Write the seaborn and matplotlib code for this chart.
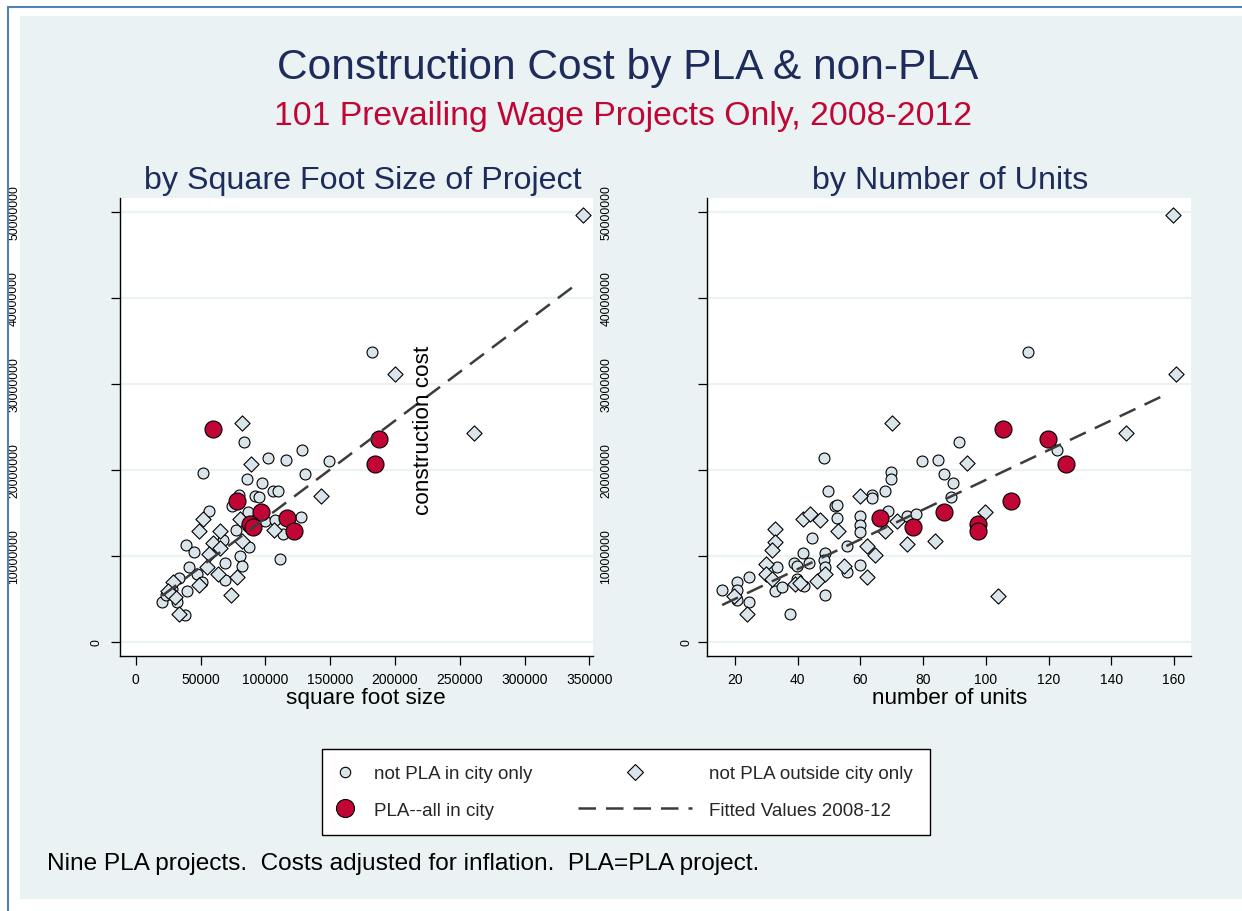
import numpy as np
import pandas as pd
import seaborn as sns
import matplotlib.pyplot as plt
from matplotlib.lines import Line2D
from matplotlib.patches import Rectangle

# construction cost in $ millions, square feet in thousands
pla_cost = [24.77, 23.66, 20.64, 16.40, 15.06, 14.36, 13.72, 13.37, 12.87]
pla_sqft = [59.9, 187.7, 184.6, 77.8, 96.3, 116.4, 88.2, 90.7, 122.4]
pla_units = [105.6, 119.8, 125.6, 107.9, 86.8, 66.3, 97.6, 76.7, 97.6]

# not PLA, in city (left panel)
city_sqft = [182.6, 83.2, 101.7, 116.1, 128.3, 148.8, 52.3, 85.5, 97.7, 130.6,
             105.6, 109.8, 79.7, 92.1, 95.1, 56.6, 127.5, 111.1, 39.0, 45.0,
             67.6, 87.7, 80.2, 69.1, 82.3, 41.4, 33.4, 47.5, 69.1, 39.4,
             20.5, 31.6, 38.0, 77.2, 86.9, 99.8, 113.9, 107.7, 74.3, 51.4,
             28.0, 23.4]
city_cost_l = [33.69, 23.31, 21.40, 21.20, 22.33, 21.05, 19.65, 18.95, 18.52, 19.50,
               17.52, 17.50, 17.13, 16.92, 16.86, 15.20, 14.50, 9.65, 11.31, 10.43,
               11.86, 11.08, 9.97, 9.19, 8.80, 8.76, 7.48, 7.87, 7.21, 5.97,
               4.65, 4.69, 3.14, 13.02, 15.08, 14.10, 12.56, 14.19, 15.85, 6.94,
               6.16, 5.47]

# not PLA, outside city (left panel)
out_sqft = [345.4, 199.7, 261.3, 82.0, 89.0, 142.7, 52.2, 48.6, 65.3, 80.2,
            59.4, 56.6, 65.0, 81.8, 106.7, 63.3, 54.8, 78.2, 48.6, 29.0,
            30.1, 73.8, 33.6, 24.9]
out_cost_l = [49.65, 31.16, 24.27, 25.43, 20.73, 16.98, 14.30, 12.91, 12.94, 14.30,
              11.55, 10.27, 10.93, 11.78, 13.06, 7.91, 8.76, 7.52, 6.66, 6.94,
              5.23, 5.50, 3.22, 5.93]

# not PLA, in city (right panel)
city_units = [113.6, 91.6, 122.6, 79.6, 84.8, 48.5, 69.7, 69.7, 86.7, 89.6,
              49.7, 67.8, 63.7, 63.7, 88.8, 51.9, 52.4, 68.7, 59.8, 52.5,
              59.8, 59.8, 44.7, 41.8, 48.7, 48.5, 55.6, 38.9, 39.7, 43.7,
              33.5, 48.6, 59.8, 55.6, 24.6, 20.7, 20.7, 15.9, 20.7, 24.6,
              32.7, 35.0, 39.7, 42.0, 48.6, 37.5, 74.8, 77.7]
city_cost_r = [33.69, 23.29, 22.27, 21.05, 21.20, 21.36, 19.73, 19.01, 19.50, 18.52,
               17.56, 17.52, 17.09, 16.80, 16.90, 15.85, 15.93, 15.27, 14.69, 14.38,
               13.60, 12.76, 12.09, 10.35, 10.35, 9.53, 11.13, 9.19, 8.80, 9.15,
               8.69, 8.69, 8.95, 8.10, 7.59, 6.94, 6.08, 6.01, 4.92, 4.69,
               5.97, 6.36, 7.33, 6.48, 5.47, 3.26, 14.62, 14.88]

# not PLA, outside city (right panel)
out_units = [159.8, 160.7, 144.7, 70.0, 93.9, 59.9, 41.8, 43.9, 47.1, 32.9,
             32.9, 31.8, 52.9, 62.0, 64.7, 67.9, 71.6, 29.9, 29.9, 31.7,
             39.1, 40.7, 46.1, 48.8, 54.8, 62.0, 19.8, 23.9, 99.9, 74.8,
             83.8, 104.0]
out_cost_r = [49.65, 31.16, 24.27, 25.43, 20.76, 17.01, 14.30, 14.88, 14.22, 13.14,
              11.66, 10.73, 12.94, 11.20, 10.15, 12.94, 14.10, 9.07, 7.91, 7.33,
              6.74, 6.86, 7.13, 7.91, 8.87, 7.52, 5.38, 3.26, 15.08, 11.43,
              11.78, 5.38]

# fitted values 2008-12
fit_sqft = [20.5, 341.3]
fit_sqft_cost = [5.38, 41.74]
fit_units = [15.9, 158.4]
fit_units_cost = [4.30, 28.95]

sqft_ticks = [0, 50000, 100000, 150000, 200000, 250000, 300000, 350000]
unit_ticks = [20, 40, 60, 80, 100, 120, 140, 160]
cost_ticks = [0, 10000000, 20000000, 30000000, 40000000, 50000000]

LIGHT = '#D9E5EA'
RED = '#C10534'
NAVY = '#1E2C5C'
BG = '#EAF2F3'
LINE = '#3C3C3C'
DASH = (0, (7, 4))


def frame(xc, yc, xd, yd, xp, yp, xmult):
    parts = [
        pd.DataFrame({'x': np.array(xc) * xmult, 'cost': np.array(yc) * 1e6, 'grp': 'city'}),
        pd.DataFrame({'x': np.array(xd) * xmult, 'cost': np.array(yd) * 1e6, 'grp': 'out'}),
        pd.DataFrame({'x': np.array(xp) * xmult, 'cost': np.array(yp) * 1e6, 'grp': 'pla'}),
    ]
    return pd.concat(parts, ignore_index=True)


left_df = frame(city_sqft, city_cost_l, out_sqft, out_cost_l, pla_sqft, pla_cost, 1000)
right_df = frame(city_units, city_cost_r, out_units, out_cost_r, pla_units, pla_cost, 1)
left_fit = (np.array(fit_sqft) * 1000, np.array(fit_sqft_cost) * 1e6)
right_fit = (np.array(fit_units), np.array(fit_units_cost) * 1e6)

sns.set_theme(style='white')
plt.rcParams['font.family'] = ['Liberation Sans', 'DejaVu Sans']

W, H = 1242, 912
fig = plt.figure(figsize=(W / 100, H / 100), dpi=100, facecolor='white')
fig.patches.append(Rectangle((20 / W, 1 - 900 / H), 1 - 20 / W, (900 - 17) / H,
                             transform=fig.transFigure, facecolor=BG, edgecolor='none', zorder=-2))
fig.lines.append(Line2D([8 / W, 8 / W], [0, 1 - 8 / H], transform=fig.transFigure,
                        color='#4F81BD', lw=1.5))
fig.lines.append(Line2D([8 / W, 1], [1 - 8 / H, 1 - 8 / H], transform=fig.transFigure,
                        color='#4F81BD', lw=1.5))

ax1 = fig.add_axes([120 / W, 1 - 657 / H, 473 / W, 458 / H])
ax2 = fig.add_axes([707 / W, 1 - 657 / H, 484 / W, 458 / H])


def draw_panel(ax, df, fit, xlim, xticks, title, title_x, xlabel, xlabel_x, lab_near, lab_far):
    ax.set_facecolor('white')
    sns.scatterplot(data=df[df.grp == 'city'], x='x', y='cost', marker='o', s=62,
                    color=LIGHT, edgecolor='black', linewidth=0.8, ax=ax, zorder=3)
    sns.scatterplot(data=df[df.grp == 'out'], x='x', y='cost', marker='D', s=60,
                    color=LIGHT, edgecolor='black', linewidth=0.8, ax=ax, zorder=3)
    sns.scatterplot(data=df[df.grp == 'pla'], x='x', y='cost', marker='o', s=150,
                    color=RED, edgecolor='black', linewidth=0.8, ax=ax, zorder=4)
    ax.plot(fit[0], fit[1], color=LINE, linewidth=1.8, linestyle=DASH, zorder=5)

    ax.set_xlim(*xlim)
    ax.set_ylim(-1.63e6, 51.63e6)
    ax.set_xticks(xticks)
    ax.set_xticklabels([str(t) for t in xticks], fontsize=10, color='black')
    ax.set_yticks(cost_ticks)
    ax.set_yticklabels([])
    ax.tick_params(axis='both', direction='out', length=6.5, width=0.9, color='black',
                   bottom=True, left=True)
    ax.tick_params(axis='x', pad=5)
    ax.yaxis.grid(True, color=BG, linewidth=1.6)
    ax.xaxis.grid(False)
    for side in ['top', 'right']:
        ax.spines[side].set_visible(False)
    for side in ['left', 'bottom']:
        ax.spines[side].set_color('black')
        ax.spines[side].set_linewidth(1.0)

    # rotated cost labels, the long ones pushed further out as in the original
    for t in cost_ticks:
        xpos = lab_near if t == 0 else lab_far
        ax.text(xpos, t, str(t), transform=ax.get_yaxis_transform(), rotation=90,
                ha='center', va='center', fontsize=8.7, color='black')

    ax.set_title(title, fontsize=23.2, color=NAVY, x=title_x, y=1.039, va='center', pad=0)
    ax.set_xlabel(xlabel, fontsize=16.2, color='black')
    ax.xaxis.set_label_coords(xlabel_x, -0.068)
    ax.set_ylabel('')


draw_panel(ax1, left_df, left_fit, (-12114, 352850), sqft_ticks, 'by Square Foot Size of Project',
           0.514, 'square foot size', 0.519, -0.049, -0.224)
draw_panel(ax2, right_df, right_fit, (11.07, 165.45), unit_ticks, 'by Number of Units', 0.502,
           'number of units', 0.502, -0.043, -0.208)

# y axis title of the right graph sits inside the left panel in the original
ax2.set_ylabel('construction cost', fontsize=16.2, color='black')
ax2.yaxis.set_label_coords((434 - 707) / 484, (657 - 430) / 458)

fig.text(628 / W, 1 - 68 / H, 'Construction Cost by PLA & non-PLA', fontsize=30.6,
         color=NAVY, ha='center', va='center')
fig.text(623 / W, 1 - 116 / H, '101 Prevailing Wage Projects Only, 2008-2012', fontsize=24.3,
         color=RED, ha='center', va='center')
fig.text(47 / W, 1 - 864 / H,
         'Nine PLA projects.  Costs adjusted for inflation.  PLA=PLA project.',
         fontsize=17.6, color='black', ha='left', va='center')

# legend box
fig.patches.append(Rectangle((322 / W, 1 - 836 / H), (930 - 322) / W, (836 - 750) / H,
                             transform=fig.transFigure, facecolor='white', edgecolor='black',
                             lw=1.0, zorder=1))
h_city = Line2D([], [], marker='o', linestyle='none', markersize=7.5,
                markerfacecolor=LIGHT, markeredgecolor='black', markeredgewidth=0.8)
h_pla = Line2D([], [], marker='o', linestyle='none', markersize=13,
               markerfacecolor=RED, markeredgecolor='black', markeredgewidth=0.8)
h_out = Line2D([], [], marker='D', linestyle='none', markersize=8.5,
               markerfacecolor=LIGHT, markeredgecolor='black', markeredgewidth=0.8)
h_fit = Line2D([], [], color=LINE, linewidth=1.8, linestyle=DASH)

leg_a = fig.legend([h_city, h_pla], ['not PLA in city only', 'PLA--all in city'],
                   loc='center left', bbox_to_anchor=(336 / W, 1 - 793 / H), frameon=False,
                   fontsize=13.5, handlelength=0.95, handletextpad=1.1, labelspacing=1.05,
                   borderpad=0, borderaxespad=0)
leg_b = fig.legend([h_out, h_fit], ['not PLA outside city only', 'Fitted Values 2008-12'],
                   loc='center left', bbox_to_anchor=(578 / W, 1 - 793 / H), frameon=False,
                   fontsize=13.5, handlelength=6.1, handletextpad=0.9, labelspacing=1.05,
                   borderpad=0, borderaxespad=0)
leg_a.set_zorder(3)
leg_b.set_zorder(3)

fig.savefig('out.png', dpi=100, facecolor='white')
